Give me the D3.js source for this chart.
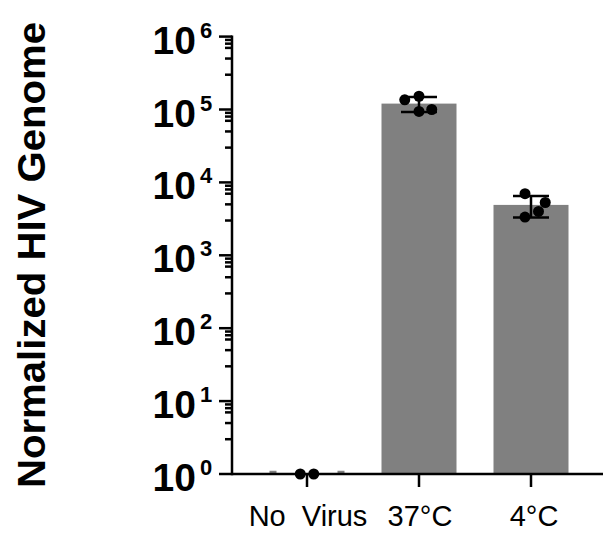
<!DOCTYPE html>
<html>
<head>
<meta charset="utf-8">
<script src="https://cdn.jsdelivr.net/npm/d3@7"></script>
<style>
  body { margin: 0; background: #fff; }
  text { font-family: "Liberation Sans", Arial, sans-serif; }
</style>
</head>
<body>
<svg id="chart" width="603" height="538"></svg>
<script>
// chart data
var categories = ["No  Virus", "37\u00B0C", "4\u00B0C"];
var noVirus = [1, 1];
var warm = [136000, 152000, 94000, 100000];
var cold = [7000, 5300, 4000, 3350];
var jitter = [[-0.09, 0.09], [-0.19, 0, 0, 0.17], [-0.08, 0.19, 0.1, -0.08]];
var majorTicks = [0, 1, 2, 3, 4, 5, 6];
var minorSteps = [3, 5, 7, 8, 9];

var groups = [noVirus, warm, cold];

var svg = d3.select('#chart');

var y = d3.scaleLog([1, 1e6], [474, 36.6]);
var x = d3.scalePoint(categories, [307, 531]);
var barWidth = 75;

// bars
var stats = groups.map(function(vals, i) {
    var mean = d3.mean(vals);
    var sd = vals.length > 1 ? d3.deviation(vals) : 0;
    return { cat: categories[i], mean: mean, sd: sd, vals: vals, jit: jitter[i] };
});

svg.append("g").selectAll("rect")
.data(stats.filter(d => d.mean > 1))
.enter()
.append("rect")
.attr("x", d => x(d.cat) - barWidth / 2)
.attr("width", barWidth)
.attr("y", d => y(d.mean))
.attr("height", d => y(1) - y(d.mean))
.attr("fill", "#808080");

// flat bar at the baseline
svg.append("g").selectAll("line")
.data(stats.filter(d => d.mean <= 1))
.enter()
.append("line")
.attr("x1", d => x(d.cat) - barWidth / 2)
.attr("x2", d => x(d.cat) + barWidth / 2)
.attr("y1", y(1) - 2)
.attr("y2", y(1) - 2)
.attr("stroke", "#808080")
.attr("stroke-width", 2.5)
.attr("stroke-dasharray", "7,61,7");

// error bars (mean +/- SD)
var err = svg.append("g").attr("stroke", "#000").attr("stroke-width", 2.5);
stats.filter(d => d.sd > 0).forEach(function(d) {
    var cx = x(d.cat);
    var lo = y(d.mean - d.sd), hi = y(d.mean + d.sd);
    err.append("line").attr("x1", cx).attr("x2", cx).attr("y1", lo).attr("y2", hi);
    err.append("line").attr("x1", cx - 18).attr("x2", cx + 18).attr("y1", lo).attr("y2", lo);
    err.append("line").attr("x1", cx - 18).attr("x2", cx + 18).attr("y1", hi).attr("y2", hi);
});

// points
stats.forEach(function(d) {
    svg.append("g").selectAll("circle")
    .data(d.vals)
    .enter()
    .append("circle")
    .attr("cx", (v, j) => x(d.cat) + d.jit[j] * barWidth)
    .attr("cy", v => y(v))
    .attr("r", 5.5)
    .attr("fill", "#000");
});

// y axis
var axis = svg.append("g").attr("stroke", "#000").attr("stroke-width", 2.5);
axis.append("line").attr("x1", 232).attr("x2", 232).attr("y1", y(1e6) - 1).attr("y2", y(1) + 1.25);

majorTicks.forEach(function(p) {
    axis.append("line").attr("x1", 219).attr("x2", 232).attr("y1", y(Math.pow(10, p))).attr("y2", y(Math.pow(10, p)));
    if (p < 6) {
        minorSteps.forEach(function(m) {
            var v = m * Math.pow(10, p);
            axis.append("line").attr("x1", 225).attr("x2", 232).attr("y1", y(v)).attr("y2", y(v));
        });
    }
    svg.append("text")
    .attr("x", 196)
    .attr("y", y(Math.pow(10, p)) + 17)
    .attr("text-anchor", "end")
    .attr("font-weight", "bold")
    .attr("font-size", 39)
    .text("10");
    svg.append("text")
    .attr("x", 200)
    .attr("y", y(Math.pow(10, p)) + 1)
    .attr("font-weight", "bold")
    .attr("font-size", 22)
    .text(p);
});

// x axis
axis.append("line").attr("x1", 232).attr("x2", 603).attr("y1", y(1)).attr("y2", y(1));
categories.forEach(function(c) {
    axis.append("line").attr("x1", x(c)).attr("x2", x(c)).attr("y1", y(1)).attr("y2", y(1) + 13);
});

svg.append("g").selectAll("text")
.data(categories)
.enter()
.append("text")
.attr("x", (d, i) => x(d) + (i == 2 ? 3 : 1))
.attr("y", 526)
.attr("text-anchor", "middle")
.attr("font-size", 29)
.style("white-space", "pre")
.text(d => d);

// y title
svg.append("text")
.attr("transform", "translate(45,255) rotate(-90)")
.attr("text-anchor", "middle")
.attr("font-weight", "bold")
.attr("font-size", 38)
.attr("textLength", 466)
.attr("lengthAdjust", "spacingAndGlyphs")
.text("Normalized HIV Genome");
</script>
</body>
</html>
